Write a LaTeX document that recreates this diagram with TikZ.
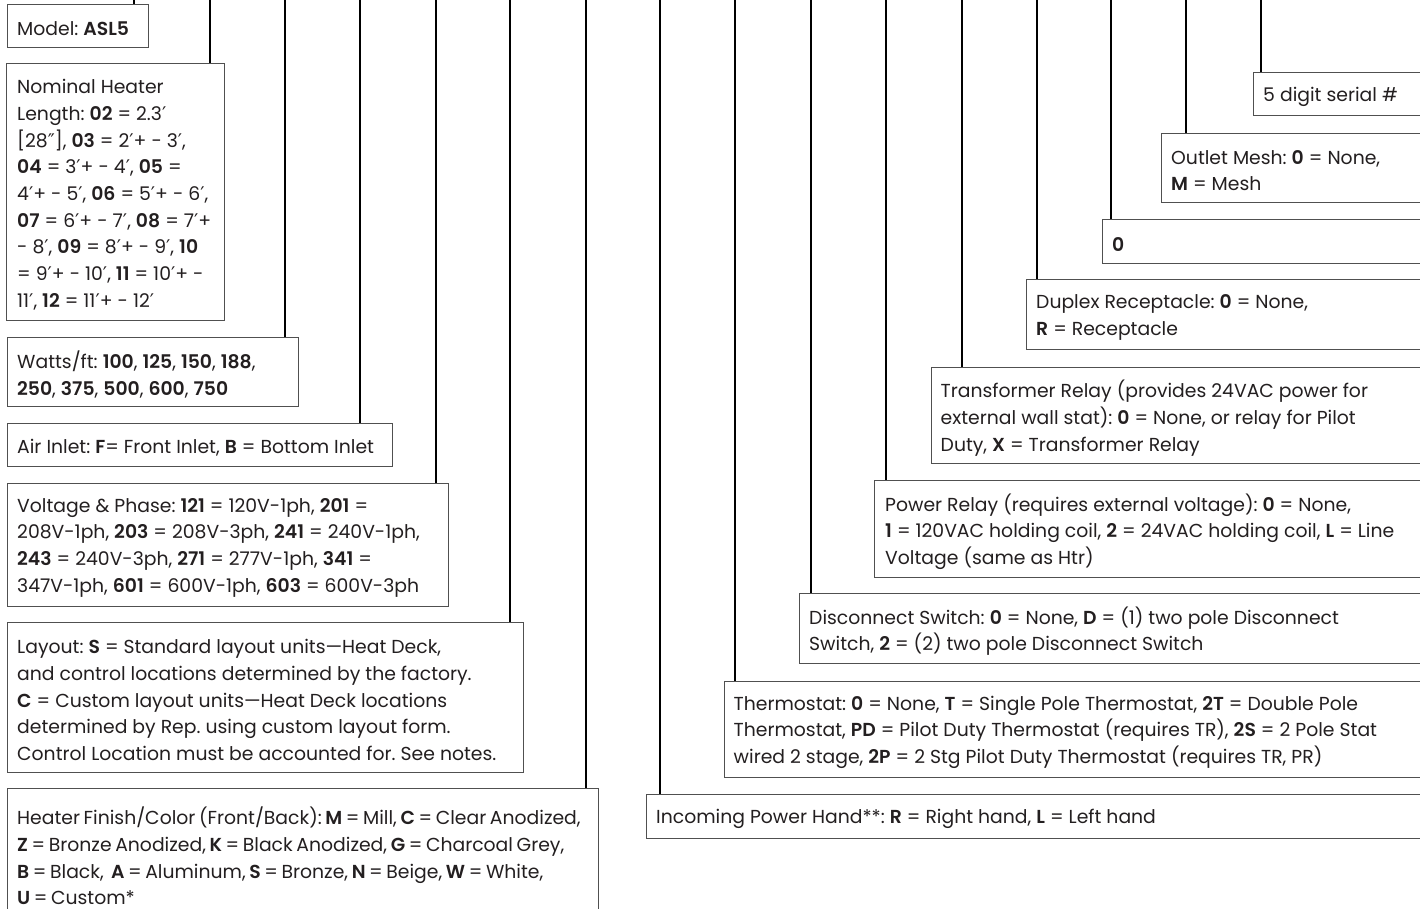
\documentclass[tikz,border=0pt]{standalone}
\usepackage{fontspec}
\setmainfont{Poppins}[BoldFont={Poppins SemiBold}]
\newfontfamily\primefont{DejaVu Sans}
\newcommand{\pr}{{\primefont ′}}
\newcommand{\dpr}{{\primefont ″}}
\definecolor{boxgray}{HTML}{505050}
\definecolor{textc}{HTML}{231F20}
\newcommand{\fs}{\fontsize{18.8}{26.7}\selectfont\frenchspacing}
\newcommand{\tightsp}{\spaceskip=0.72\fontdimen2\font\relax}
\tikzset{
  box/.style={draw=boxgray, line width=1.3pt, anchor=north west, inner sep=0pt},
  txt/.style={anchor=west, inner sep=0pt, align=left, font=\fs, text=textc, yshift=-2.5pt},
  conn/.style={line width=2pt, draw=black}
}
\begin{document}
\begin{tikzpicture}[x=1pt,y=-1pt]
\useasboundingbox (0,0) rectangle (1420,909);
\clip (0,0) rectangle (1420,909);
\fill[white] (0,0) rectangle (1420,909);
% boxes
\node[box, minimum width=141pt, minimum height=43pt] (model) at (7,4) {};
\node[box, minimum width=218pt, minimum height=257pt] (nominal) at (6,63) {};
\node[box, minimum width=291pt, minimum height=69pt] (watts) at (7,337) {};
\node[box, minimum width=385pt, minimum height=43pt] (air) at (7,423) {};
\node[box, minimum width=441pt, minimum height=123pt] (volt) at (7,483) {};
\node[box, minimum width=516pt, minimum height=150pt] (layout) at (7,622) {};
\node[box, minimum width=591pt, minimum height=130pt] (finish) at (7,788) {};
\node[box, minimum width=784pt, minimum height=44pt] (incoming) at (646,794) {};
\node[box, minimum width=706pt, minimum height=96pt] (thermo) at (723.5,681) {};
\node[box, minimum width=631pt, minimum height=70pt] (disc) at (799,593) {};
\node[box, minimum width=556pt, minimum height=97pt] (power) at (874,480) {};
\node[box, minimum width=500pt, minimum height=96pt] (trans) at (930.5,367) {};
\node[box, minimum width=404pt, minimum height=70pt] (duplex) at (1026,279) {};
\node[box, minimum width=328pt, minimum height=44pt] (zero) at (1102,219) {};
\node[box, minimum width=269pt, minimum height=69pt] (outlet) at (1161,133) {};
\node[box, minimum width=177pt, minimum height=43pt] (serial) at (1253,72) {};
% texts
\node[txt] (model-t) at ([xshift=10pt]model.west) {Model: \textbf{ASL5}};
\node[txt] (nominal-t) at ([xshift=11pt]nominal.west) {Nominal Heater\\
Length: \textbf{02} = 2.3\pr\\
{[}28\dpr{]}, \textbf{03} = 2\pr+ - 3\pr,\\
\textbf{04} = 3\pr+ - 4\pr, \textbf{05} =\\
4\pr+ - 5\pr, \textbf{06} = 5\pr+ - 6\pr,\\
\textbf{07} = 6\pr+ - 7\pr, \textbf{08} = 7\pr+\\
- 8\pr, \textbf{09} = 8\pr+ - 9\pr, \textbf{10}\\
= 9\pr+ - 10\pr, \textbf{11} = 10\pr+ -\\
11\pr, \textbf{12} = 11\pr+ - 12\pr};
\node[txt] (watts-t) at ([xshift=10pt]watts.west) {Watts/ft: \textbf{100}, \textbf{125}, \textbf{150}, \textbf{188},\\
\textbf{250}, \textbf{375}, \textbf{500}, \textbf{600}, \textbf{750}};
\node[txt] (air-t) at ([xshift=10pt]air.west) {Air Inlet: \textbf{F}= Front Inlet, \textbf{B} = Bottom Inlet};
\node[txt] (volt-t) at ([xshift=10pt]volt.west) {Voltage \& Phase: \textbf{121} = 120V-1ph, \textbf{201} =\\
208V-1ph, \textbf{203} = 208V-3ph, \textbf{241} = 240V-1ph,\\
\textbf{243} = 240V-3ph, \textbf{271} = 277V-1ph, \textbf{341} =\\
347V-1ph, \textbf{601} = 600V-1ph, \textbf{603} = 600V-3ph};
\node[txt] (layout-t) at ([xshift=10pt]layout.west) {Layout: \textbf{S} = Standard layout units—Heat Deck,\\
and control locations determined by the factory.\\
\textbf{C} = Custom layout units—Heat Deck locations\\
determined by Rep. using custom layout form.\\
Control Location must be accounted for. See notes.};
\node[txt, font=\fs\tightsp] (finish-t) at ([xshift=10pt]finish.west) {Heater Finish/Color (Front/Back): \textbf{M} = Mill, \textbf{C} = Clear Anodized,\\
\textbf{Z} = Bronze Anodized, \textbf{K} = Black Anodized, \textbf{G} = Charcoal Grey,\\
\textbf{B} = Black,~ \textbf{A} = Aluminum, \textbf{S} = Bronze, \textbf{N} = Beige, \textbf{W} = White,\\
\textbf{U} = Custom*};
\node[txt] (incoming-t) at ([xshift=10pt]incoming.west) {Incoming Power Hand**: \textbf{R} = Right hand, \textbf{L} = Left hand};
\node[txt] (thermo-t) at ([xshift=10pt]thermo.west) {Thermostat: \textbf{0} = None, \textbf{T} = Single Pole Thermostat, \textbf{2T} = Double Pole\\
Thermostat, \textbf{PD} = Pilot Duty Thermostat (requires TR), \textbf{2S} = 2 Pole Stat\\
wired 2 stage, \textbf{2P} = 2 Stg Pilot Duty Thermostat (requires TR, PR)};
\node[txt] (disc-t) at ([xshift=10pt]disc.west) {Disconnect Switch: \textbf{0} = None, \textbf{D} = (1) two pole Disconnect\\
Switch, \textbf{2} = (2) two pole Disconnect Switch};
\node[txt] (power-t) at ([xshift=11pt]power.west) {Power Relay (requires external voltage): \textbf{0} = None,\\
\textbf{1} = 120VAC holding coil, \textbf{2} = 24VAC holding coil, \textbf{L} = Line\\
Voltage (same as Htr)};
\node[txt] (trans-t) at ([xshift=10pt]trans.west) {Transformer Relay (provides 24VAC power for\\
external wall stat): \textbf{0} = None, or relay for Pilot\\
Duty, \textbf{X} = Transformer Relay};
\node[txt] (duplex-t) at ([xshift=10pt]duplex.west) {Duplex Receptacle: \textbf{0} = None,\\
\textbf{R} = Receptacle};
\node[txt] (zero-t) at ([xshift=10pt]zero.west) {\textbf{0}};
\node[txt] (outlet-t) at ([xshift=10pt]outlet.west) {Outlet Mesh: \textbf{0} = None,\\
\textbf{M} = Mesh};
\node[txt] (serial-t) at ([xshift=10pt]serial.west) {5 digit serial \#};
% connectors
\coordinate (tmodel) at (134,0);
\coordinate (tnominal) at (210,0);
\coordinate (twatts) at (285,0);
\coordinate (tair) at (360,0);
\coordinate (tvolt) at (435.5,0);
\coordinate (tlayout) at (510,0);
\coordinate (tfinish) at (585.5,0);
\coordinate (tincoming) at (660,0);
\coordinate (tthermo) at (735,0);
\coordinate (tdisc) at (811,0);
\coordinate (tpower) at (886,0);
\coordinate (ttrans) at (962,0);
\coordinate (tduplex) at (1036.5,0);
\coordinate (tzero) at (1111,0);
\coordinate (toutlet) at (1186,0);
\coordinate (tserial) at (1261,0);
\foreach \n in {model,nominal,watts,air,volt,layout,finish,incoming,thermo,disc,power,trans,duplex,zero,outlet,serial}
  \draw[conn] (t\n) -- (t\n |- \n.north);
\end{tikzpicture}
\end{document}
